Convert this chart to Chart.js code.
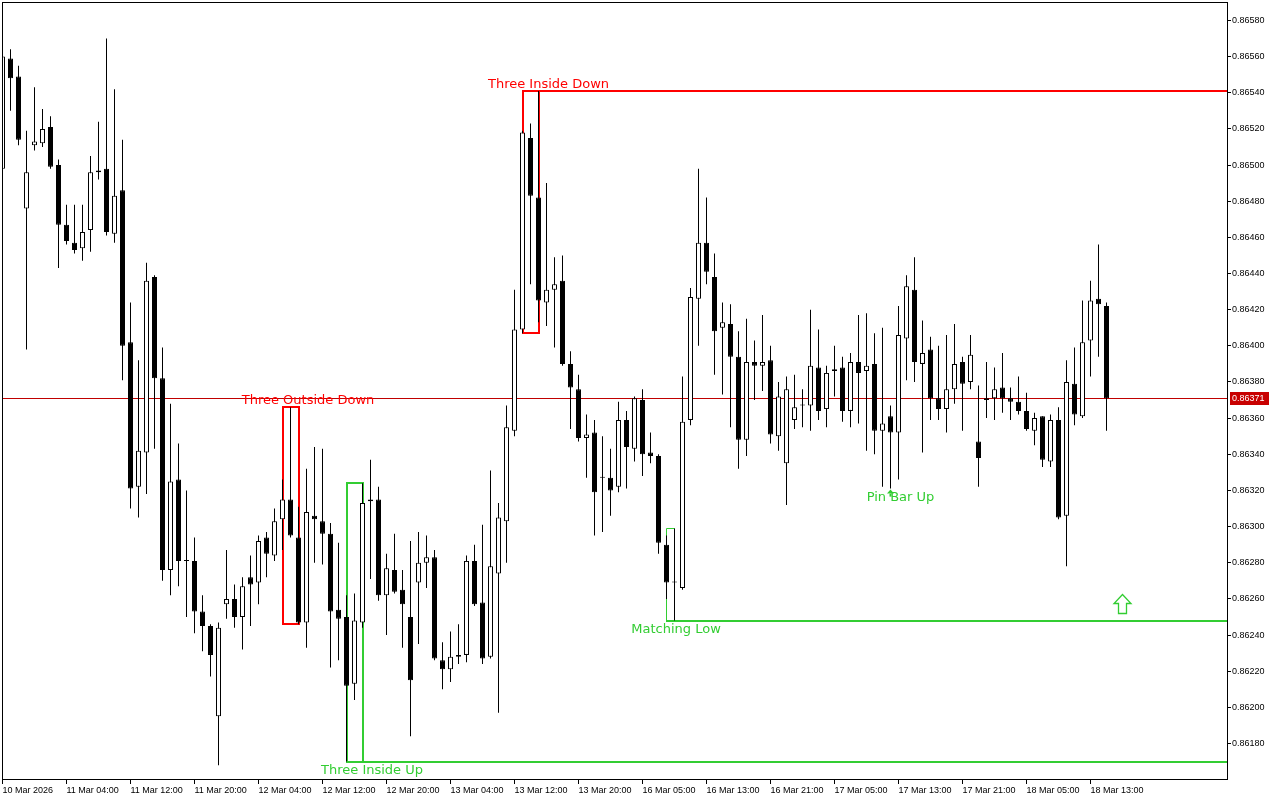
<!DOCTYPE html>
<html><head><meta charset="utf-8">
<script src="https://cdn.jsdelivr.net/npm/chart.js@4.4.1/dist/chart.umd.min.js"></script>
<style>html,body{margin:0;padding:0;background:#fff;}canvas{display:block;}</style>
</head><body>
<canvas id="c" width="1280" height="800"></canvas>
<script>
// ---- DATA ----
const xTickLabels = ['10 Mar 2026','11 Mar 04:00','11 Mar 12:00','11 Mar 20:00','12 Mar 04:00','12 Mar 12:00','12 Mar 20:00','13 Mar 04:00','13 Mar 12:00','13 Mar 20:00','16 Mar 05:00','16 Mar 13:00','16 Mar 21:00','17 Mar 05:00','17 Mar 13:00','17 Mar 21:00','18 Mar 05:00','18 Mar 13:00'];
const xTickStep = 8; // one label every 8 hourly bars
const yTicks = [0.86180,0.86200,0.86220,0.86240,0.86260,0.86280,0.86300,0.86320,0.86340,0.86360,0.86380,0.86400,0.86420,0.86440,0.86460,0.86480,0.86500,0.86520,0.86540,0.86560,0.86580];
const lastPrice = 0.86371;

const openP = [
0.86498,0.86559,0.86549,0.86476,0.86511,0.86512,0.86521,0.86500,0.86467,0.86457,
0.86454,0.86464,0.86496,0.86498,0.86462,0.86486,0.86402,0.86322,0.86341,0.86438,
0.86382,0.86276,0.86326,0.86281,0.86281,0.86253,0.86245,0.86195,0.86257,0.86260,
0.86250,0.86272,0.86269,0.86294,0.86284,0.86304,0.86315,0.86294,0.86247,0.86306,
0.86303,0.86296,0.86254,0.86250,0.86213,0.86247,0.86315,0.86315,0.86262,0.86276,
0.86265,0.86250,0.86269,0.86280,0.86283,0.86226,0.86221,0.86228,0.86229,0.86281,
0.86258,0.86228,0.86274,0.86303,0.86353,0.86409,0.86515,0.86482,0.86424,0.86431,
0.86436,0.86390,0.86376,0.86349,0.86352,0.86327,0.86327,0.86322,0.86359,0.86343,
0.86370,0.86341,0.86339,0.86290,0.86269,0.86266,0.86359,0.86426,0.86457,0.86438,
0.86410,0.86412,0.86394,0.86348,0.86391,0.86389,0.86392,0.86350,0.86335,0.86359,
0.86367,0.86367,0.86388,0.86365,0.86386,0.86388,0.86364,0.86391,0.86386,0.86390,
0.86353,0.86361,0.86352,0.86404,0.86431,0.86390,0.86398,0.86371,0.86365,0.86376,
0.86391,0.86380,0.86347,0.86370,0.86371,0.86377,0.86371,0.86369,0.86364,0.86353,
0.86361,0.86336,0.86359,0.86306,0.86379,0.86361,0.86403,0.86426,0.86422];
const highP = [
0.86565,0.86564,0.86555,0.86519,0.86543,0.86531,0.86527,0.86503,0.86478,0.86478,
0.86478,0.86505,0.86524,0.86570,0.86542,0.86514,0.86424,0.86392,0.86446,0.86439,
0.86399,0.86368,0.86346,0.86320,0.86294,0.86262,0.86246,0.86247,0.86287,0.86268,
0.86272,0.86284,0.86295,0.86297,0.86310,0.86326,0.86366,0.86311,0.86332,0.86344,
0.86343,0.86302,0.86291,0.86262,0.86263,0.86324,0.86337,0.86322,0.86285,0.86296,
0.86276,0.86292,0.86297,0.86295,0.86287,0.86236,0.86242,0.86246,0.86284,0.86290,
0.86301,0.86331,0.86313,0.86367,0.86431,0.86519,0.86523,0.86541,0.86490,0.86449,
0.86450,0.86397,0.86384,0.86362,0.86359,0.86350,0.86343,0.86369,0.86364,0.86372,
0.86376,0.86352,0.86340,0.86295,0.86299,0.86383,0.86432,0.86498,0.86482,0.86451,
0.86424,0.86423,0.86408,0.86415,0.86403,0.86417,0.86400,0.86380,0.86383,0.86384,
0.86376,0.86420,0.86409,0.86389,0.86400,0.86394,0.86396,0.86417,0.86418,0.86407,
0.86410,0.86367,0.86422,0.86439,0.86449,0.86414,0.86405,0.86400,0.86406,0.86412,
0.86394,0.86406,0.86378,0.86391,0.86388,0.86396,0.86377,0.86383,0.86374,0.86363,
0.86361,0.86362,0.86366,0.86392,0.86399,0.86425,0.86436,0.86456,0.86424];
const lowP = [
0.86497,0.86530,0.86511,0.86398,0.86508,0.86510,0.86498,0.86443,0.86456,0.86451,
0.86447,0.86452,0.86492,0.86461,0.86457,0.86381,0.86310,0.86305,0.86318,0.86343,
0.86270,0.86262,0.86267,0.86250,0.86241,0.86231,0.86217,0.86168,0.86249,0.86244,
0.86232,0.86245,0.86257,0.86272,0.86281,0.86287,0.86294,0.86246,0.86233,0.86280,
0.86279,0.86222,0.86226,0.86170,0.86204,0.86244,0.86271,0.86259,0.86240,0.86263,
0.86233,0.86184,0.86235,0.86266,0.86226,0.86210,0.86214,0.86224,0.86225,0.86256,
0.86224,0.86227,0.86197,0.86280,0.86350,0.86407,0.86434,0.86413,0.86411,0.86399,
0.86389,0.86354,0.86347,0.86327,0.86295,0.86297,0.86306,0.86319,0.86321,0.86336,
0.86328,0.86335,0.86285,0.86260,0.86248,0.86265,0.86356,0.86400,0.86434,0.86384,
0.86373,0.86355,0.86332,0.86339,0.86370,0.86375,0.86346,0.86342,0.86312,0.86354,
0.86355,0.86353,0.86359,0.86355,0.86372,0.86358,0.86355,0.86357,0.86342,0.86340,
0.86322,0.86321,0.86326,0.86381,0.86380,0.86341,0.86359,0.86359,0.86352,0.86368,
0.86353,0.86376,0.86322,0.86360,0.86359,0.86363,0.86359,0.86362,0.86353,0.86345,
0.86333,0.86333,0.86304,0.86278,0.86356,0.86360,0.86383,0.86394,0.86353];
const closeP = [
0.86560,0.86548,0.86514,0.86496,0.86513,0.86520,0.86499,0.86467,0.86458,0.86453,
0.86463,0.86496,0.86497,0.86463,0.86483,0.86400,0.86321,0.86342,0.86436,0.86382,
0.86276,0.86325,0.86281,0.86281,0.86253,0.86245,0.86229,0.86244,0.86260,0.86250,
0.86267,0.86268,0.86292,0.86285,0.86303,0.86315,0.86295,0.86247,0.86308,0.86304,
0.86296,0.86253,0.86249,0.86212,0.86248,0.86313,0.86314,0.86262,0.86277,0.86264,
0.86257,0.86215,0.86280,0.86283,0.86227,0.86221,0.86228,0.86229,0.86281,0.86257,
0.86227,0.86278,0.86305,0.86355,0.86409,0.86518,0.86483,0.86425,0.86431,0.86434,
0.86390,0.86377,0.86349,0.86351,0.86319,0.86327,0.86320,0.86359,0.86344,0.86371,
0.86340,0.86339,0.86291,0.86269,0.86269,0.86358,0.86427,0.86457,0.86441,0.86408,
0.86413,0.86394,0.86348,0.86391,0.86389,0.86391,0.86351,0.86372,0.86376,0.86366,
0.86367,0.86389,0.86364,0.86385,0.86387,0.86364,0.86391,0.86385,0.86389,0.86353,
0.86357,0.86352,0.86406,0.86433,0.86391,0.86396,0.86371,0.86365,0.86376,0.86390,
0.86379,0.86395,0.86338,0.86371,0.86376,0.86371,0.86369,0.86364,0.86354,0.86360,
0.86337,0.86359,0.86305,0.86380,0.86362,0.86402,0.86425,0.86423,0.86371];

// pattern boxes (bar index from 0, prices)
const boxStart  = [35, 65, 43, 83];
const boxEnd    = [37, 67, 45, 84];
const boxHigh   = [0.86366, 0.86541, 0.86324, 0.86299];
const boxLow    = [0.86246, 0.86407, 0.86170, 0.86248];
const boxColor  = ['#ff0000', '#ff0000', '#32cd32', '#32cd32'];
const boxWidth  = [2, 2, 2, 1];
const boxExtend = [null, 'high', 'low', 'low'];

// pattern labels
const labelText  = ['Three Outside Down', 'Three Inside Down', 'Three Inside Up', 'Matching Low', 'Pin Bar Up'];
const labelIdx   = [38.19, 68.25, 46.19, 84.19, 112.25];
const labelPrice = [0.86366, 0.86541, 0.86170, 0.86248, 0.86321];
const labelSide  = ['above', 'above', 'below', 'below', 'below'];
const labelColor = ['#ff0000', '#ff0000', '#32cd32', '#32cd32', '#32cd32'];

// markers
const pinIdx = 111, pinPrice = 0.86321;
const arrowIdx = 140, arrowPrice = 0.86252;

// ---- build datasets ----
const bodyData = openP.map((o, i) => ({x: i, y: [Math.min(o, closeP[i]), Math.max(o, closeP[i])]}));
const wickData = lowP.map((l, i) => ({x: i, y: [l, highP[i]]}));
const bodyFill = openP.map((o, i) => closeP[i] < o ? '#000000' : '#ffffff');

const FONT_AXIS = {family: 'Liberation Sans', size: 9};
const GREEN = '#32cd32';

const decor = {
  id: 'decor',
  beforeDatasetsDraw(chart) {
    const {ctx, chartArea: a, scales: {x, y}} = chart;
    ctx.save();
    ctx.beginPath(); ctx.rect(a.left, a.top, a.right - a.left, a.bottom - a.top); ctx.clip();
    // price line
    const py = Math.floor(y.getPixelForValue(lastPrice)) + 0.5;
    ctx.strokeStyle = '#c00000'; ctx.lineWidth = 1;
    ctx.beginPath(); ctx.moveTo(a.left, py); ctx.lineTo(a.right, py); ctx.stroke();
    // boxes
    for (let k = 0; k < boxStart.length; k++) {
      const w = boxWidth[k];
      const sx = v => (w % 2) ? Math.floor(v) + 0.5 : Math.floor(v) + 1;
      const sy = v => (w % 2) ? Math.floor(v) + 0.5 : Math.round(v);
      const x1 = sx(x.getPixelForValue(boxStart[k]));
      const x2 = sx(x.getPixelForValue(boxEnd[k]));
      const yH = sy(y.getPixelForValue(boxHigh[k]));
      const yL = sy(y.getPixelForValue(boxLow[k]));
      ctx.strokeStyle = boxColor[k]; ctx.lineWidth = w;
      ctx.beginPath(); ctx.rect(x1, yH, x2 - x1, yL - yH); ctx.stroke();
      if (boxExtend[k]) {
        const eyy = Math.round(y.getPixelForValue(boxExtend[k] === 'high' ? boxHigh[k] : boxLow[k]));
        ctx.lineWidth = 2;
        ctx.beginPath(); ctx.moveTo(x1 - w / 2, eyy); ctx.lineTo(a.right, eyy); ctx.stroke();
      }
    }
    ctx.restore();
  },
  afterDatasetsDraw(chart) {
    const {ctx, chartArea: a, scales: {x, y}} = chart;
    ctx.save();
    ctx.beginPath(); ctx.rect(a.left, a.top, a.right - a.left, a.bottom - a.top); ctx.clip();
    // labels
    ctx.font = '13px "DejaVu Sans"';
    ctx.textAlign = 'center'; ctx.textBaseline = 'middle';
    for (let k = 0; k < labelText.length; k++) {
      const lx = x.getPixelForValue(labelIdx[k]);
      const ly = y.getPixelForValue(labelPrice[k]) + (labelSide[k] === 'above' ? -6.5 : 9.5);
      ctx.fillStyle = labelColor[k];
      ctx.fillText(labelText[k], lx, ly);
    }
    // pin bar small arrow
    const px = Math.floor(x.getPixelForValue(pinIdx)) + 0.5;
    const pyy = y.getPixelForValue(pinPrice) + 1;
    ctx.fillStyle = GREEN;
    ctx.beginPath(); ctx.moveTo(px, pyy); ctx.lineTo(px + 3.5, pyy + 4); ctx.lineTo(px - 3.5, pyy + 4); ctx.closePath(); ctx.fill();
    ctx.fillRect(px - 1, pyy + 4, 2, 3);
    // big hollow up arrow
    const ax = Math.floor(x.getPixelForValue(arrowIdx)) + 0.5;
    const ab = Math.round(y.getPixelForValue(arrowPrice)) + 0.5;
    const pts = [[0, -19], [8.5, -10], [4, -10], [4, 0], [-4, 0], [-4, -10], [-8.5, -10]];
    ctx.beginPath();
    pts.forEach((p, i) => i ? ctx.lineTo(ax + p[0], ab + p[1]) : ctx.moveTo(ax + p[0], ab + p[1]));
    ctx.closePath();
    ctx.fillStyle = '#ffffff'; ctx.fill();
    ctx.strokeStyle = GREEN; ctx.lineWidth = 1.3; ctx.stroke();
    ctx.restore();
  },
  afterDraw(chart) {
    const {ctx, chartArea: a, scales: {y}} = chart;
    ctx.save();
    ctx.strokeStyle = '#000'; ctx.lineWidth = 1;
    ctx.strokeRect(a.left + 0.5, a.top + 0.5, a.right - a.left - 1, a.bottom - a.top - 1);
    // last price tag
    const py = Math.floor(y.getPixelForValue(lastPrice));
    ctx.fillStyle = '#c80000';
    ctx.fillRect(a.right + 2, py - 6, 39, 13);
    ctx.fillStyle = '#ffffff';
    ctx.font = '9px "Liberation Sans"';
    ctx.textAlign = 'left'; ctx.textBaseline = 'middle';
    ctx.fillText(lastPrice.toFixed(5), a.right + 4, py + 0.5);
    ctx.restore();
  }
};

new Chart(document.getElementById('c'), {
  type: 'bar',
  data: {
    datasets: [
      {data: bodyData, backgroundColor: bodyFill, borderColor: '#000000', borderWidth: 1, borderSkipped: false,
       barThickness: 5, grouped: false, minBarLength: 1, inflateAmount: 0, order: 0},
      {data: wickData, backgroundColor: '#000000', borderWidth: 0, barThickness: 1, grouped: false,
       inflateAmount: 0, order: 1}
    ]
  },
  options: {
    responsive: false, animation: false, devicePixelRatio: 1,
    layout: {autoPadding: false, padding: {left: 2, top: 2, right: 0, bottom: 0}},
    plugins: {legend: {display: false}, tooltip: {enabled: false}},
    scales: {
      x: {
        type: 'linear', min: -0.0625, max: 153.1875, offset: false,
        afterBuildTicks: s => { s.ticks = xTickLabels.map((t, k) => ({value: k * xTickStep})); },
        afterFit: s => { s.height = 20; s.paddingLeft = 0; s.paddingRight = 0; },
        grid: {offset: false, drawOnChartArea: false, drawTicks: true, tickLength: 4, tickColor: '#000', tickWidth: 1},
        border: {display: false},
        ticks: {autoSkip: false, maxRotation: 0, minRotation: 0, align: 'start', padding: 1, color: '#000',
                font: FONT_AXIS, callback: (v, k) => xTickLabels[k] ?? ''}
      },
      y: {
        position: 'right', min: 0.861598, max: 0.865902,
        afterBuildTicks: s => { s.ticks = yTicks.map(v => ({value: v})); },
        afterFit: s => { s.width = 52; s.paddingTop = 0; s.paddingBottom = 0; },
        grid: {offset: false, drawOnChartArea: false, drawTicks: true, tickLength: 3, tickColor: '#000', tickWidth: 1},
        border: {display: false},
        ticks: {autoSkip: false, padding: 1, color: '#000', font: FONT_AXIS, callback: v => Number(v).toFixed(5)}
      }
    }
  },
  plugins: [decor]
});
</script>
</body></html>
